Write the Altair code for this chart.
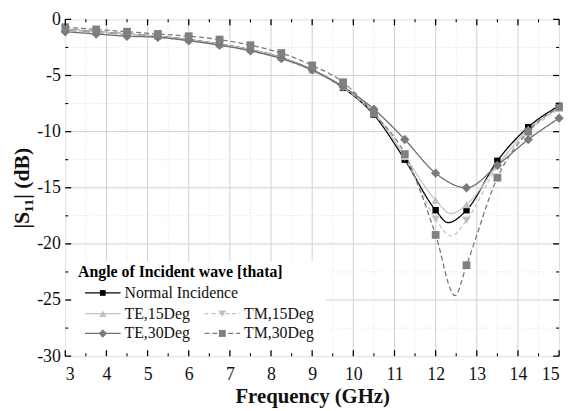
import altair as alt
import pandas as pd

# ---------------- data ----------------
freq = [3, 3.75, 4.5, 5.25, 6, 6.75, 7.5, 8.25, 9, 9.75, 10.5, 11.25, 12, 12.75, 13.5, 14.25, 15]
normal = [-0.9, -1.1, -1.3, -1.5, -1.8, -2.2, -2.7, -3.4, -4.5, -6.1, -8.5, -12.5, -17.0, -17.0, -12.6, -9.6, -7.7]
te15 = [-0.9, -1.1, -1.3, -1.5, -1.8, -2.2, -2.7, -3.4, -4.5, -6.0, -8.3, -12.2, -16.1, -16.5, -13.0, -9.8, -7.9]
tm15 = [-1.0, -1.2, -1.4, -1.6, -1.9, -2.3, -2.8, -3.5, -4.6, -6.1, -8.4, -12.3, -17.8, -17.9, -13.1, -10.0, -8.0]
te30 = [-1.1, -1.3, -1.5, -1.6, -1.9, -2.3, -2.8, -3.5, -4.5, -6.0, -8.0, -10.7, -13.7, -15.0, -13.0, -10.7, -8.8]
tm30 = [-0.7, -0.9, -1.1, -1.3, -1.5, -1.8, -2.3, -3.0, -4.1, -5.6, -8.4, -12.0, -19.2, -21.9, -14.1, -10.0, -7.8]

# curve minima between the 12 and 12.75 GHz markers
dip_freq = {"Normal Incidence": 12.3, "TE,15Deg": 12.37, "TM,15Deg": 12.38, "TM,30Deg": 12.47}
dip_val = {"Normal Incidence": -18.1, "TE,15Deg": -17.3, "TM,15Deg": -19.3, "TM,30Deg": -24.6}

series_names = ["Normal Incidence", "TE,15Deg", "TM,15Deg", "TE,30Deg", "TM,30Deg"]
series_vals = [normal, te15, tm15, te30, tm30]

x_major = list(range(3, 16))
x_minor = [3.5 + i for i in range(12)]
y_major = [0, -5, -10, -15, -20, -25, -30]
y_minor = [-2.5, -7.5, -12.5, -17.5, -22.5, -27.5]

# ---------------- styles ----------------
style = {
    "Normal Incidence": dict(color="#000000", mcolor="#000000", shape="square", size=42, dash=[1, 0]),
    "TE,15Deg": dict(color="#c4c4c4", mcolor="#c0c0c0", shape="triangle-up", size=70, dash=[1, 0]),
    "TM,15Deg": dict(color="#c4c4c4", mcolor="#c0c0c0", shape="triangle-down", size=70, dash=[4, 3]),
    "TE,30Deg": dict(color="#6e6e6e", mcolor="#7a7a7a", shape="diamond", size=90, dash=[1, 0]),
    "TM,30Deg": dict(color="#7a7a7a", mcolor="#808080", shape="square", size=62, dash=[5, 3]),
}

W, H = 500, 341
FONT = "Liberation Serif, Times New Roman, Times, DejaVu Serif, serif"

xs = alt.Scale(domain=[3, 15], nice=False, zero=False)
ys = alt.Scale(domain=[-30, 0], nice=False, zero=False)

layers = []

# grid
gx_minor = pd.DataFrame({"x": x_minor})
gx_major = pd.DataFrame({"x": x_major[1:-1]})
gy_minor = pd.DataFrame({"y": y_minor})
gy_major = pd.DataFrame({"y": y_major[1:-1]})
layers.append(alt.Chart(gx_minor).mark_rule(color="#d9d9d9", strokeWidth=0.8, strokeDash=[1, 2]).encode(
    x=alt.X("x:Q", scale=xs)))
layers.append(alt.Chart(gy_minor).mark_rule(color="#d9d9d9", strokeWidth=0.8, strokeDash=[1, 2]).encode(
    y=alt.Y("y:Q", scale=ys)))
layers.append(alt.Chart(gx_major).mark_rule(color="#d0d0d0", strokeWidth=1).encode(
    x=alt.X("x:Q", scale=xs)))
layers.append(alt.Chart(gy_major).mark_rule(color="#d0d0d0", strokeWidth=1).encode(
    y=alt.Y("y:Q", scale=ys)))

# legend background box (hides grid)
layers.append(alt.Chart(alt.Data(values=[{}])).mark_rect(color="white").encode(
    x=alt.value(1), x2=alt.value(264), y=alt.value(245), y2=alt.value(H - 1)))

# curves and markers
for name, vals in zip(series_names, series_vals):
    st = style[name]
    fx = list(freq)
    fy = list(vals)
    if name in dip_freq:
        fx.append(dip_freq[name])
        fy.append(dip_val[name])
    ld = pd.DataFrame({"x": fx, "y": fy}).sort_values("x")
    layers.append(alt.Chart(ld).mark_line(color=st["color"], strokeWidth=1.3, strokeDash=st["dash"],
                                          interpolate="monotone").encode(
        x=alt.X("x:Q", scale=xs), y=alt.Y("y:Q", scale=ys)))
for name, vals in zip(series_names, series_vals):
    st = style[name]
    pdd = pd.DataFrame({"x": freq, "y": vals})
    layers.append(alt.Chart(pdd).mark_point(shape=st["shape"], filled=True, opacity=1,
                                            color=st["mcolor"], size=st["size"]).encode(
        x=alt.X("x:Q", scale=xs), y=alt.Y("y:Q", scale=ys)))

# axes (labels and titles)
hyphen_label = "(datum.value < 0 ? '-' : '') + abs(datum.value)"
axis_layer = alt.Chart(pd.DataFrame({"x": [3], "y": [0]})).mark_point(opacity=0).encode(
    x=alt.X("x:Q", scale=xs, title="Frequency (GHz)",
            axis=alt.Axis(values=x_major, labelExpr=hyphen_label, grid=False, ticks=False, domain=False,
                          labelFont=FONT, labelFontSize=18, labelColor="#111", labelPadding=10,
                          titleFont=FONT, titleFontSize=21, titleFontWeight="bold", titlePadding=2,
                          titleColor="#111")),
    y=alt.Y("y:Q", scale=ys, title="|S₁₁| (dB)",
            axis=alt.Axis(values=y_major, labelExpr=hyphen_label, grid=False, ticks=False, domain=False,
                          labelFont=FONT, labelFontSize=18, labelColor="#111", labelPadding=5,
                          titleFont=FONT, titleFontSize=22, titleFontWeight="bold", titlePadding=3,
                          titleColor="#111")),
)
layers.append(axis_layer)

# inward ticks on all four sides
tmaj = pd.DataFrame({"x": x_major})
tmin = pd.DataFrame({"x": x_minor})
ymaj = pd.DataFrame({"y": y_major})
ymin = pd.DataFrame({"y": y_minor})
tick_color = "#000"
layers.append(alt.Chart(tmaj).mark_rule(color=tick_color, strokeWidth=1.3).encode(
    x=alt.X("x:Q", scale=xs), y=alt.value(H), y2=alt.value(H - 6)))
layers.append(alt.Chart(tmin).mark_rule(color=tick_color, strokeWidth=1.1).encode(
    x=alt.X("x:Q", scale=xs), y=alt.value(H), y2=alt.value(H - 3)))
layers.append(alt.Chart(tmaj).mark_rule(color=tick_color, strokeWidth=1.3).encode(
    x=alt.X("x:Q", scale=xs), y=alt.value(0), y2=alt.value(6)))
layers.append(alt.Chart(tmin).mark_rule(color=tick_color, strokeWidth=1.1).encode(
    x=alt.X("x:Q", scale=xs), y=alt.value(0), y2=alt.value(3)))
layers.append(alt.Chart(ymaj).mark_rule(color=tick_color, strokeWidth=1.3).encode(
    y=alt.Y("y:Q", scale=ys), x=alt.value(0), x2=alt.value(6)))
layers.append(alt.Chart(ymin).mark_rule(color=tick_color, strokeWidth=1.1).encode(
    y=alt.Y("y:Q", scale=ys), x=alt.value(0), x2=alt.value(3)))
layers.append(alt.Chart(ymaj).mark_rule(color=tick_color, strokeWidth=1.3).encode(
    y=alt.Y("y:Q", scale=ys), x=alt.value(W), x2=alt.value(W - 6)))
layers.append(alt.Chart(ymin).mark_rule(color=tick_color, strokeWidth=1.1).encode(
    y=alt.Y("y:Q", scale=ys), x=alt.value(W), x2=alt.value(W - 3)))

# custom legend
legend_title = "Angle of Incident wave [thata]"
one = alt.Data(values=[{}])
layers.append(alt.Chart(one).mark_text(text=legend_title, font=FONT, fontSize=16, fontWeight="bold",
                                       align="left", baseline="middle", color="#000").encode(
    x=alt.value(13), y=alt.value(256)))
legend_pos = {
    "Normal Incidence": (20, 277),
    "TE,15Deg": (20, 298),
    "TM,15Deg": (141, 298),
    "TE,30Deg": (20, 318),
    "TM,30Deg": (141, 318),
}
for name in series_names:
    st = style[name]
    lx, ly = legend_pos[name]
    layers.append(alt.Chart(one).mark_rule(color=st["color"], strokeWidth=1.3, strokeDash=st["dash"]).encode(
        x=alt.value(lx), x2=alt.value(lx + 36), y=alt.value(ly)))
    layers.append(alt.Chart(one).mark_point(shape=st["shape"], filled=True, opacity=1, color=st["mcolor"],
                                            size=st["size"] * 0.8).encode(
        x=alt.value(lx + 18), y=alt.value(ly)))
    layers.append(alt.Chart(one).mark_text(text=name, font=FONT, fontSize=16, align="left",
                                           baseline="middle", color="#111").encode(
        x=alt.value(lx + 40), y=alt.value(ly)))

chart = alt.layer(*layers).properties(
    width=W, height=H,
    padding={"left": 58, "top": 9, "right": 8, "bottom": 52},
    autosize=alt.AutoSizeParams(type="none"),
).configure_view(stroke="#000", strokeWidth=1.5).configure(background="white")

chart.save("out.html", embed_options={"renderer": "svg", "actions": False})
